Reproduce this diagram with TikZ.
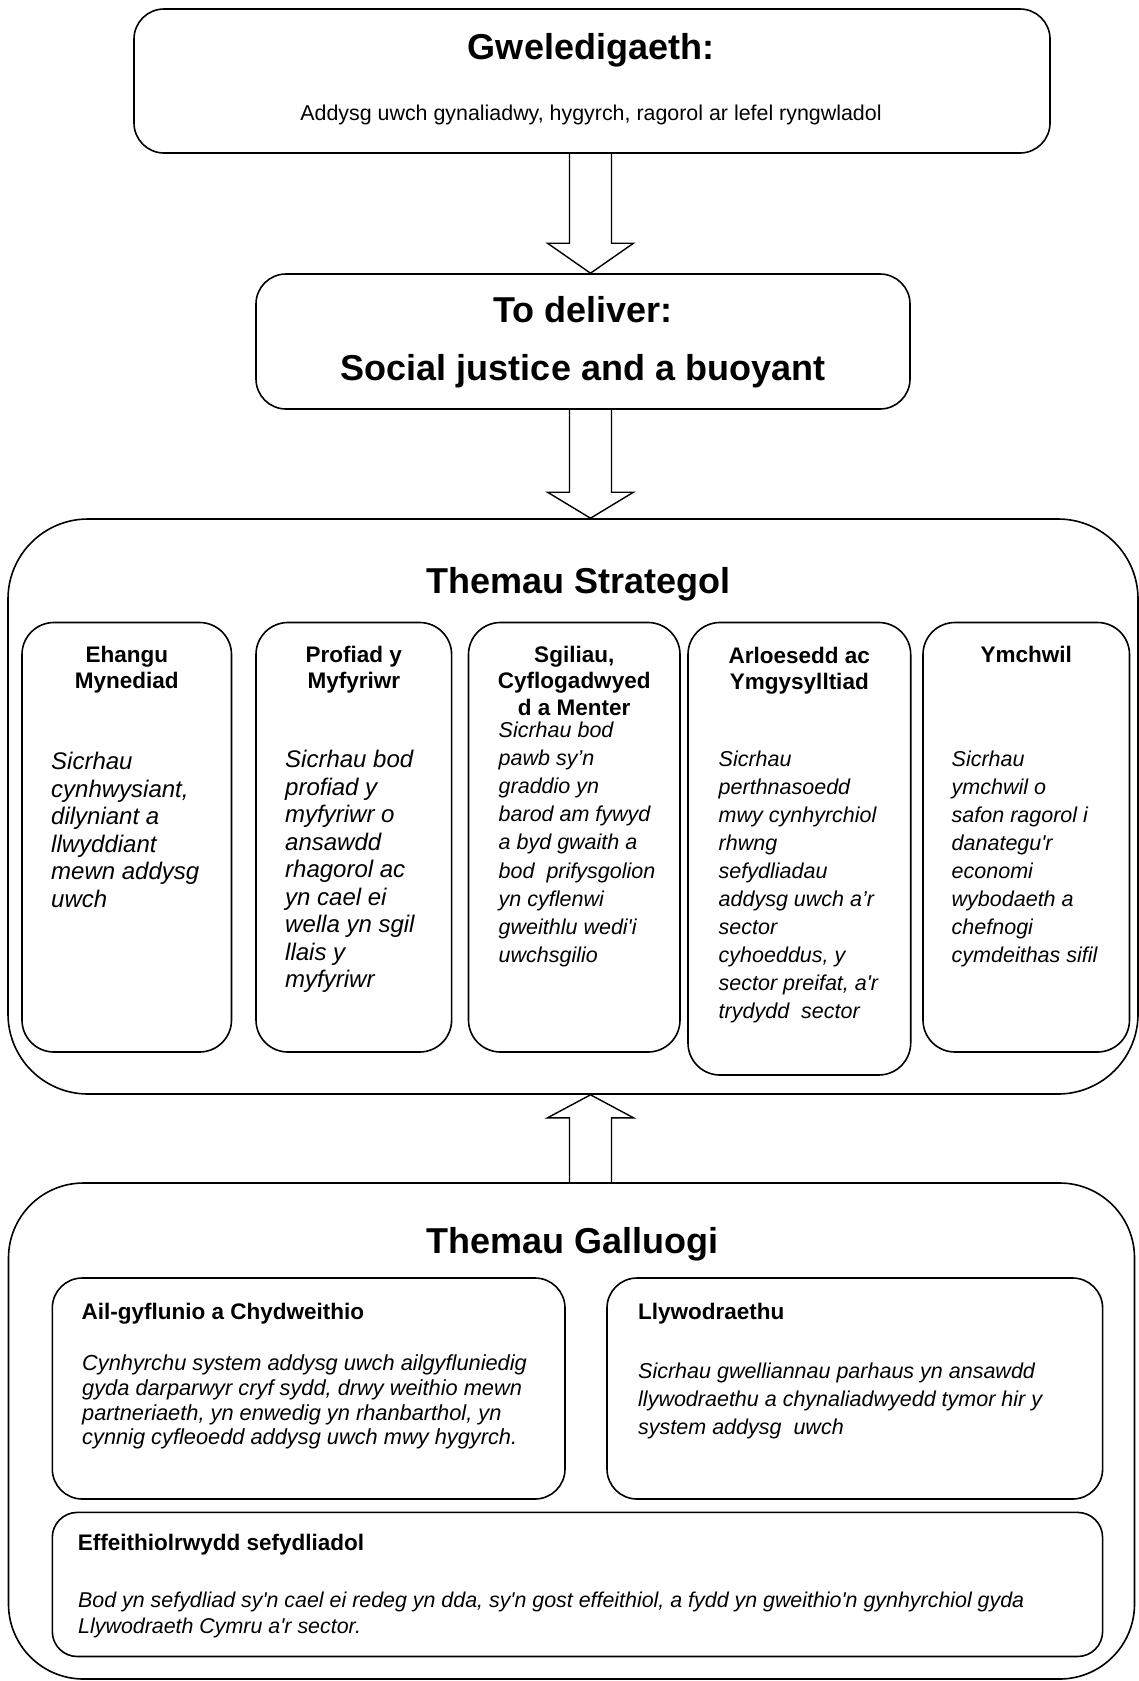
\documentclass[tikz,border=0pt]{standalone}
\usepackage{fontspec}
\setmainfont{Liberation Sans}
\usetikzlibrary{calc}

\newcommand{\sqt}{\textquotesingle}
% block arrow between two points, #3 = signed head length
\newcommand{\blockarrow}[3]{%
  \draw[arrowline] ($(#1)+(-21,0)$) -- ($(#2)+(-21,#3)$) -- ($(#2)+(-43,#3)$) -- (#2)
    -- ($(#2)+(43,#3)$) -- ($(#2)+(21,#3)$) -- ($(#1)+(21,0)$);}

\begin{document}
\begin{tikzpicture}[x=1pt,y=-1pt,
    panel/.style={draw, line width=1.6pt, rounded corners=#1, inner sep=0pt},
    arrowline/.style={line width=1.4pt, line join=miter},
    title/.style={font=\fontsize{36}{42}\selectfont\bfseries, anchor=base, inner sep=0pt},
    head/.style={font=\fontsize{22.5}{26.5}\selectfont\bfseries, align=center, anchor=base, inner sep=0pt},
    lefthead/.style={font=\fontsize{22.5}{26.5}\selectfont\bfseries, anchor=base west, inner sep=0pt},
    body/.style={font=\fontsize{24}{27.5}\selectfont\itshape, align=left, anchor=base west, inner sep=0pt},
    smallbody/.style={font=\fontsize{21.5}{28.1}\selectfont\itshape, align=left, anchor=base west, inner sep=0pt}]
    \useasboundingbox (0,0) rectangle (1139,1681);

    % Vision and delivery boxes
    \node[panel=30pt, minimum width=916pt, minimum height=144pt] (vision) at (592,81) {};
    \node[title] (visiontitle) at (591,59) {Gweledigaeth:};
    \node[font=\fontsize{21.4}{24}\selectfont, anchor=base, inner sep=0pt] (visiontext) at (591,120)
        {Addysg uwch gynaliadwy, hygyrch, ragorol ar lefel ryngwladol};

    \node[panel=30pt, minimum width=654pt, minimum height=135pt] (deliver) at (583,341.5) {};
    \node[title] (delivertitle) at (583,322) {To deliver:};
    \node[title] (deliverline) at (583,380) {Social justice and a buoyant};

    % Strategic themes (multi-line texts sit on their last baseline)
    \node[panel=80pt, minimum width=1130pt, minimum height=575pt] (strategol) at (573,806.5) {};
    \node[title] (strategoltitle) at (578.5,593) {Themau Strategol};

    \node[panel=32pt, minimum width=209.5pt, minimum height=429.5pt] (s1) at (126.75,837.25) {};
    \node[panel=32pt, minimum width=195.6pt, minimum height=429.5pt] (s2) at (353.8,837.25) {};
    \node[panel=32pt, minimum width=211.5pt, minimum height=429.5pt] (s3) at (574.25,837.25) {};
    \node[panel=32pt, minimum width=222.7pt, minimum height=452.5pt] (s4) at (799.35,848.75) {};
    \node[panel=32pt, minimum width=206.5pt, minimum height=429.5pt] (s5) at (1026.25,837.25) {};

    \node[head] (s1head) at (126.75,688.5) {Ehangu\\Mynediad};
    \node[body] (s1text) at (51,907) {Sicrhau\\cynhwysiant,\\dilyniant a\\llwyddiant\\mewn addysg\\uwch};

    \node[head] (s2head) at (353.8,688.5) {Profiad y\\Myfyriwr};
    \node[body] (s2text) at (285,987.5) {Sicrhau bod\\profiad y\\myfyriwr o\\ansawdd\\rhagorol ac\\yn cael ei\\wella yn sgil\\llais y\\myfyriwr};

    \node[head] (s3head) at (574.25,715) {Sgiliau,\\Cyflogadwyed\\d a Menter};
    \node[smallbody] (s3text) at (498.5,962.3) {Sicrhau bod\\pawb sy’n\\graddio yn\\barod am fywyd\\a byd gwaith a\\bod\ \ prifysgolion\\yn cyflenwi\\gweithlu wedi\sqt i\\uwchsgilio};

    \node[head] (s4head) at (799.35,689.5) {Arloesedd ac\\Ymgysylltiad};
    \node[smallbody] (s4text) at (718.5,1018.9) {Sicrhau\\perthnasoedd\\mwy cynhyrchiol\\rhwng\\sefydliadau\\addysg uwch a’r\\sector\\cyhoeddus, y\\sector preifat, a\sqt r\\trydydd\ \ sector};

    \node[head] (s5head) at (1026.25,662) {Ymchwil};
    \node[smallbody] (s5text) at (951.5,962.7) {Sicrhau\\ymchwil o\\safon ragorol i\\danategu\sqt r\\economi\\wybodaeth a\\chefnogi\\cymdeithas sifil};

    % Enabling themes
    \node[panel=75pt, minimum width=1126pt, minimum height=496pt] (galluogi) at (571.5,1431) {};
    \node[title] (galluogititle) at (572.4,1253) {Themau Galluogi};

    \node[panel=30pt, minimum width=512.7pt, minimum height=221pt] (g1) at (308.65,1388.5) {};
    \node[panel=30pt, minimum width=495.6pt, minimum height=221pt] (g2) at (854.8,1388.5) {};
    \node[panel=25pt, minimum width=1050.3pt, minimum height=144.1pt] (g3) at (577.45,1584.45) {};

    \node[lefthead] (g1head) at (81.4,1319) {Ail-gyflunio a Chydweithio};
    \node[body, font=\fontsize{21.8}{24.8}\selectfont\itshape] (g1text) at (82,1444.9)
        {Cynhyrchu system addysg uwch ailgyfluniedig\\gyda darparwyr cryf sydd, drwy weithio mewn\\partneriaeth, yn enwedig yn rhanbarthol, yn\\cynnig cyfleoedd addysg uwch mwy hygyrch.};

    \node[lefthead] (g2head) at (637.8,1319) {Llywodraethu};
    \node[body, font=\fontsize{21.5}{28}\selectfont\itshape] (g2text) at (638,1434.5)
        {Sicrhau gwelliannau parhaus yn ansawdd\\llywodraethu a chynaliadwyedd tymor hir y\\system addysg\ \ uwch};

    \node[lefthead] (g3head) at (77.7,1550) {Effeithiolrwydd sefydliadol};
    \node[body, font=\fontsize{21.4}{26}\selectfont\itshape] (g3text) at (78,1633)
        {Bod yn sefydliad sy\sqt n cael ei redeg yn dda, sy\sqt n gost effeithiol, a fydd yn gweithio\sqt n gynhyrchiol gyda\\Llywodraeth Cymru a\sqt r sector.};

    % Block arrows
    \coordinate (axis) at (590.5,0);
    \coordinate (a1) at (vision.south -| axis);
    \coordinate (b1) at (deliver.north -| axis);
    \coordinate (a2) at (deliver.south -| axis);
    \coordinate (b2) at (strategol.north -| axis);
    \coordinate (a3) at (galluogi.north -| axis);
    \coordinate (b3) at (strategol.south -| axis);
    \blockarrow{a1}{b1}{-30}
    \blockarrow{a2}{b2}{-26}
    \blockarrow{a3}{b3}{23}

\end{tikzpicture}
\end{document}
